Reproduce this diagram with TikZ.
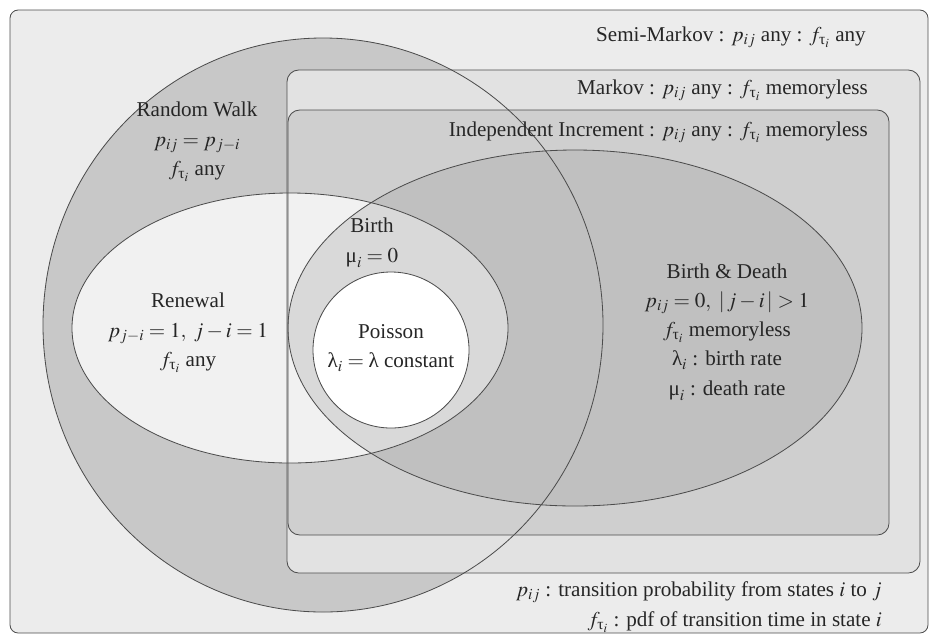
\documentclass[tikz,border=0pt]{standalone}
\usepackage{amsmath}
\usepackage{mathptmx}
\usepackage[no-math]{fontspec}
\setmainfont{Liberation Serif}
\usetikzlibrary{positioning}
\definecolor{vennbg}{HTML}{ECECEC}
\definecolor{rwfill}{HTML}{C8C8C8}
\definecolor{mkfill}{HTML}{E2E2E2}
\definecolor{iifill}{HTML}{CFCFCF}
\definecolor{bdfill}{HTML}{C0C0C0}
\definecolor{renfill}{HTML}{F1F1F1}
\definecolor{lensfill}{HTML}{D9D9D9}
% upright Greek, as in the figure
\newcommand{\glam}{\text{λ}}
\newcommand{\gmu}{\text{μ}}
\newcommand{\gtau}{\text{τ}}

\begin{document}
\begin{tikzpicture}[
      x=0.03cm, y=-0.03cm,
      every node/.style={font=\fontsize{18}{25}\selectfont, text=black!85, inner sep=0pt},
      outline/.style={draw=black!70, line width=0.7pt},
      label/.style={align=center},
      tag/.style={anchor=east},
    ]
    \useasboundingbox (0,0) rectangle (934,636);
    % centres of the ellipses
    \coordinate (rw)  at (323,325);
    \coordinate (bd)  at (575,328);
    \coordinate (ren) at (290,328);
    \coordinate (poi) at (391,350);

    % fills
    \draw[outline, fill=vennbg, rounded corners=7pt] (10,10) rectangle (928,633);
    \fill[rwfill] (rw) ellipse [x radius=280, y radius=287];
    \fill[mkfill, rounded corners=10pt] (287,70) rectangle (920,573);
    \fill[iifill, rounded corners=10pt] (288,110) rectangle (889,535);
    \fill[bdfill] (bd) ellipse [x radius=287, y radius=178];
    \fill[renfill] (ren) ellipse [x radius=218, y radius=135];
    \begin{scope}
      \clip (ren) ellipse [x radius=218, y radius=135];
      \fill[lensfill] (bd) ellipse [x radius=287, y radius=178];
    \end{scope}
    \fill[white] (poi) circle [radius=78];

    % outlines
    \draw[outline, rounded corners=10pt] (287,70) rectangle (920,573);
    \draw[outline, rounded corners=10pt] (288,110) rectangle (889,535);
    \draw[outline] (rw) ellipse [x radius=280, y radius=287];
    \draw[outline] (bd) ellipse [x radius=287, y radius=178];
    \draw[outline] (ren) ellipse [x radius=218, y radius=135];
    \draw[outline] (poi) circle [radius=78];

    % labels
    \node[tag] (semi) at (866,37) {Semi-Markov : $p_{ij}$ any : $f_{\gtau_i}$ any};
    \node[tag] (markov) at (868,90) {Markov : $p_{ij}$ any : $f_{\gtau_i}$ memoryless};
    \node[tag] (indep) at (868,132) {Independent Increment : $p_{ij}$ any : $f_{\gtau_i}$ memoryless};
    \node[label] (walk) at (197,142) {Random Walk\\$p_{ij} = p_{j-i}$\\$f_{\gtau_i}$ any};
    \node[label] (renewal) at (188,333) {Renewal\\$p_{j-i} = 1,\ j-i = 1$\\$f_{\gtau_i}$ any};
    \node[label] (birth) at (372,243) {Birth\\$\gmu_i = 0$};
    \node[label] (poisson) at (391,348) {Poisson\\$\glam_i = \glam$ constant};
    \node[label] (death) at (727,332) {Birth \& Death\\$p_{ij} = 0,\ |\,j-i\,| > 1$\\$f_{\gtau_i}$ memoryless\\$\glam_i$ : birth rate\\$\gmu_i$ : death rate};
    \node[label, align=right, anchor=east] (legend) at (882,607) {$p_{ij}$ : transition probability from states $i$ to $j$\\$f_{\gtau_i}$ : pdf of transition time in state $i$};
  \end{tikzpicture}
\end{document}
